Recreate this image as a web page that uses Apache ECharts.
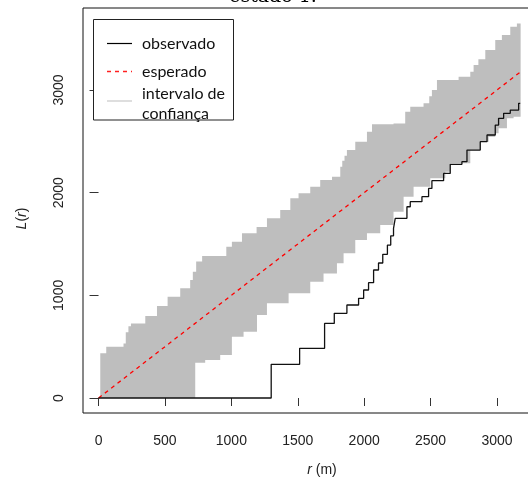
<!DOCTYPE html>
<html>
<head>
<meta charset="utf-8">
<script src="https://cdn.jsdelivr.net/npm/echarts@6/dist/echarts.min.js"></script>
<style>html,body{margin:0;padding:0;background:#fff}#c{width:528px;height:477px}</style>
</head>
<body>
<div id="c"></div>
<script>
// r (m) where the step value begins, L(r) value
const upperEnvelope = [
  [0,0],[13,435],[58,500],[188,532],[205,640],[225,700],[244,727],[352,799],[440,896],[520,987],
  [615,1068],[690,1149],[710,1230],[735,1330],[780,1383],[962,1474],[1004,1523],[1080,1604],
  [1190,1665],[1268,1750],[1368,1831],[1444,1945],[1506,1994],[1594,2058],[1669,2123],[1758,2156],
  [1820,2253],[1835,2310],[1852,2360],[1870,2415],[1933,2497],[2021,2594],[2059,2666],[2221,2675],
  [2309,2789],[2347,2838],[2447,2870],[2490,2940],[2510,3000],[2548,3097],[2711,3130],[2799,3178],
  [2824,3243],[2860,3300],[2912,3390],[2987,3487],[3037,3536],[3100,3617],[3150,3649],[3178,3649]
];
const lowerEnvelope = [
  [0,0],[728,344],[803,370],[916,419],[1004,597],[1092,646],[1193,808],[1268,922],[1431,1020],
  [1594,1133],[1694,1214],[1795,1312],[1845,1409],[1933,1539],[2021,1604],[2121,1685],[2221,1815],
  [2297,1961],[2372,2058],[2498,2140],[2611,2204],[2648,2286],[2799,2415],[2874,2497],[2937,2545],
  [2987,2578],[3012,2627],[3075,2724],[3125,2740],[3178,2740]
];
const observed = [
  [0,0],[1300,328],[1514,484],[1702,727],[1775,825],[1870,906],[1958,971],[1996,1052],[2033,1123],
  [2071,1247],[2108,1315],[2140,1400],[2175,1490],[2200,1580],[2221,1653],[2234,1750],[2322,1863],
  [2347,1912],[2435,1961],[2485,2042],[2510,2117],[2598,2188],[2648,2276],[2736,2302],[2774,2415],
  [2874,2497],[2925,2562],[2987,2659],[3012,2724],[3050,2773],[3100,2805],[3163,2870],[3175,2870]
];
const expected = [[0,0],[3175,3175]];
const xTicks = [0,500,1000,1500,2000,2500,3000];
const yTicks = [0,1000,2000,3000];
const legendLabels = ['observado','esperado','intervalo de','confiança'];
const titleText = 'estado 1.';

function stepPoints(arr, api){
  const pts = [];
  for (let i = 0; i < arr.length; i++){
    if (i > 0) pts.push(api.coord([arr[i][0], arr[i-1][1]]));
    pts.push(api.coord(arr[i]));
  }
  return pts;
}

const chart = echarts.init(document.getElementById('c'), null, {renderer:'canvas'});
const axisFont = {fontFamily:'Liberation Sans', fontSize:14, color:'#222'};
chart.setOption({
  animation:false,
  backgroundColor:'#fff',
  grid:{left:83, right:-33, top:8, bottom:64, outerBoundsMode:'none', containLabel:false,
    show:true, borderColor:'#111', borderWidth:1, backgroundColor:'transparent'},
  xAxis:{
    type:'value', min:-117, max:3482,
    splitLine:{show:false},
    axisLine:{show:false},
    axisTick:{show:true, length:8, inside:false, customValues:xTicks, lineStyle:{color:'#333'}},
    axisLabel:{show:true, customValues:xTicks, margin:21, formatter:v=>String(v), ...axisFont},
    name:'{i|r} (m)', nameLocation:'middle', nameGap:50,
    nameTextStyle:{fontFamily:'Liberation Sans', fontSize:14, color:'#222',
      rich:{i:{fontStyle:'italic', fontFamily:'Liberation Sans', fontSize:14, color:'#222'}}}
  },
  yAxis:{
    type:'value', min:-146, max:3799,
    splitLine:{show:false},
    axisLine:{show:false},
    axisTick:{show:true, length:9, customValues:yTicks, lineStyle:{color:'#333'}},
    axisLabel:{show:true, customValues:yTicks, rotate:90, margin:17, formatter:v=>String(v), ...axisFont},
    name:'{i|L}({i|r})', nameLocation:'middle', nameGap:54,
    nameTextStyle:{fontFamily:'Liberation Sans', fontSize:14, color:'#222', padding:[0,0,0,-16],
      rich:{i:{fontStyle:'italic', fontFamily:'Liberation Sans', fontSize:14, color:'#222'}}}
  },
  series:[
    {type:'custom', data:[0], z:1, silent:true,
      renderItem:function(params, api){
        const up = stepPoints(upperEnvelope, api);
        const lo = stepPoints(lowerEnvelope, api).reverse();
        return {type:'polygon', shape:{points:up.concat(lo)}, style:{fill:'#bebebe', stroke:null}};
      }},
    {type:'line', data:expected, showSymbol:false, symbol:'none',
      lineStyle:{width:1.3, color:'#ff0000', type:[4,4]}, z:3},
    {type:'line', data:observed, step:'end', showSymbol:false, symbol:'none',
      lineStyle:{width:1.3, color:'#111'}, z:4}
  ],
  graphic:[
    {type:'text', x:273, y:7, z:10,
      style:{text:titleText, font:'19px "DejaVu Serif"', fill:'#000', align:'center', verticalAlign:'bottom'}},
    {type:'rect', z:20, shape:{x:93.5, y:19.5, width:140, height:100.5},
      style:{fill:'#fff', stroke:'#222', lineWidth:1}},
    {type:'line', z:21, shape:{x1:107, y1:43.5, x2:132, y2:43.5}, style:{stroke:'#000', lineWidth:1.2}},
    {type:'line', z:21, shape:{x1:107, y1:71.5, x2:132, y2:71.5}, style:{stroke:'#ff2020', lineWidth:1.5, lineDash:[4,4]}},
    {type:'line', z:21, shape:{x1:107, y1:101, x2:132, y2:101}, style:{stroke:'#d3d3d3', lineWidth:1.5}},
    {type:'text', z:21, x:142, y:43.5, style:{text:legendLabels[0], font:'16px Lato', fill:'#111', verticalAlign:'middle'}},
    {type:'text', z:21, x:142, y:71.5, style:{text:legendLabels[1], font:'16px Lato', fill:'#111', verticalAlign:'middle'}},
    {type:'text', z:21, x:142, y:93.5, style:{text:legendLabels[2], font:'16px Lato', fill:'#111', verticalAlign:'middle'}},
    {type:'text', z:21, x:142, y:114, style:{text:legendLabels[3], font:'16px Lato', fill:'#111', verticalAlign:'middle'}}
  ]
});
</script>
</body>
</html>
